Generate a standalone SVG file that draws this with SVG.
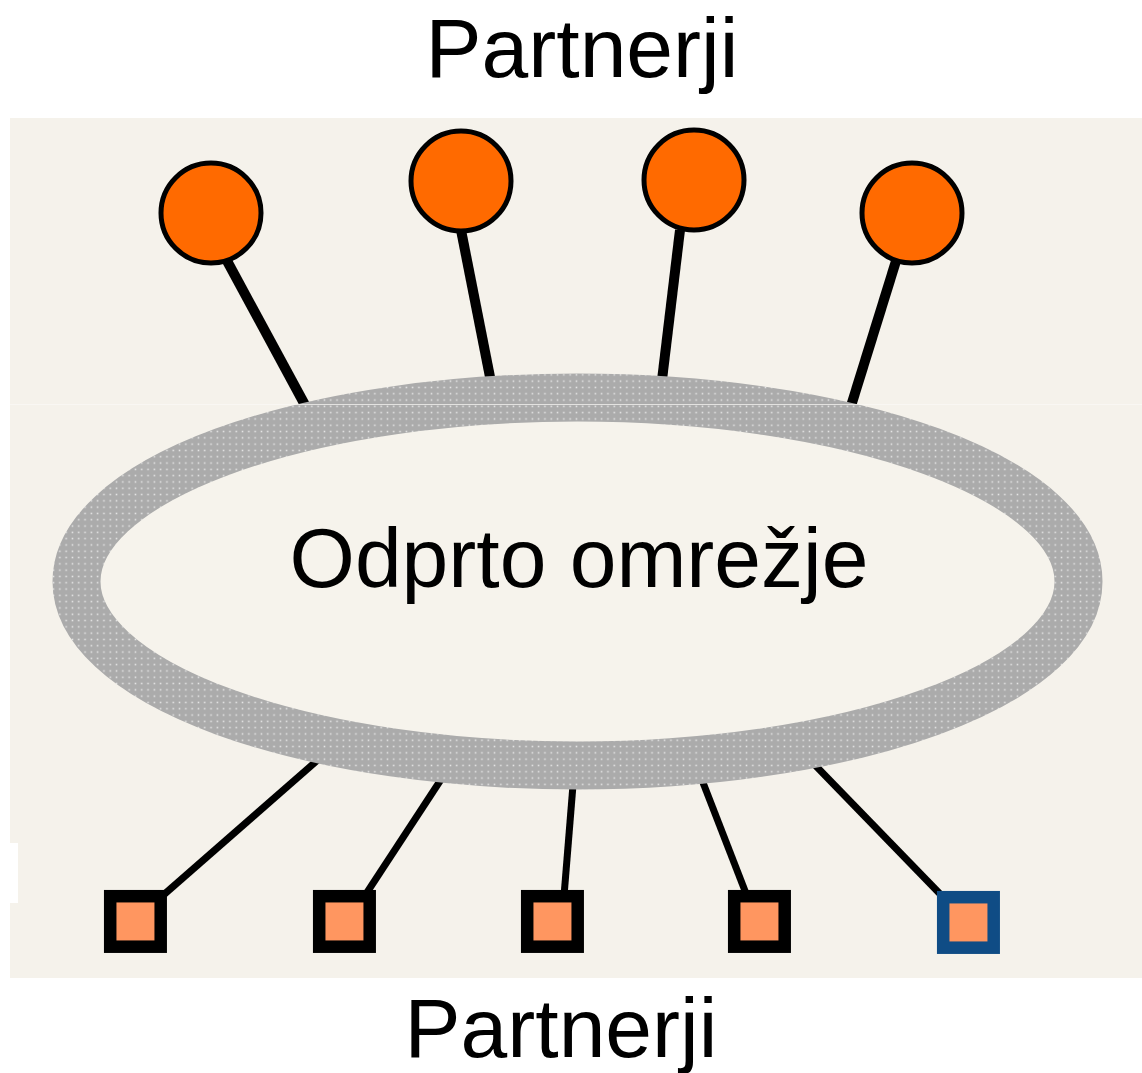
<svg xmlns="http://www.w3.org/2000/svg" width="1142" height="1073" viewBox="0 0 1142 1073">
  <defs>
    <pattern id="dots" x="0" y="0" width="6.3" height="6.3" patternUnits="userSpaceOnUse">
      <rect width="6.3" height="6.3" fill="#ABABAB"/>
      <rect x="2.4" y="2.4" width="1.5" height="1.5" fill="#E8E8E8"/>
    </pattern>
    <style>
      .label { font-family: "Liberation Sans", Arial, sans-serif; font-size: 84px; fill: #000; text-anchor: middle; }
      .top-line { stroke: #000; stroke-width: 10; stroke-linecap: butt; fill: none; }
      .bot-line { stroke: #000; stroke-width: 7; stroke-linecap: butt; fill: none; }
      .partner-top { fill: #FF6A00; stroke: #000; stroke-width: 5; }
      .partner-bot { fill: #FF9660; stroke: #000; stroke-width: 12.5; }
      .partner-bot.blue { stroke: #0F4C85; }
    </style>
  </defs>

  <rect width="1142" height="1073" fill="#FFFFFF"/>
  <!-- panel -->
  <rect x="10" y="118" width="1132" height="860" fill="#F5F2EB"/>
  <rect x="0" y="843" width="18" height="60" fill="#FFFFFF"/>

  <g id="connectors">
    <line class="top-line" x1="226" y1="259" x2="305" y2="405"/>
    <line class="top-line" x1="461" y1="230" x2="491" y2="382"/>
    <line class="top-line" x1="680" y1="230" x2="662" y2="380"/>
    <line class="top-line" x1="896" y1="261" x2="851" y2="406"/>
    <line class="bot-line" x1="160" y1="898" x2="320" y2="758"/>
    <line class="bot-line" x1="364" y1="897" x2="442" y2="778"/>
    <line class="bot-line" x1="564" y1="896" x2="573" y2="785"/>
    <line class="bot-line" x1="747" y1="896" x2="702" y2="780"/>
    <line class="bot-line" x1="943" y1="897" x2="814" y2="764"/>
  </g>

  <g id="network">
    <ellipse cx="577.5" cy="581.5" rx="501" ry="184" fill="#F6F3EC" stroke="url(#dots)" stroke-width="48"/>
    <text class="label" x="579" y="587">Odprto omrežje</text>
  </g>

  <!-- faint seam across the panel -->
  <line x1="10" y1="404.5" x2="1142" y2="404.5" stroke="#FBFAF7" stroke-width="1" opacity="0.7"/>

  <g id="partner-top-1"><circle class="partner-top" cx="211" cy="213" r="50"/></g>
  <g id="partner-top-2"><circle class="partner-top" cx="461" cy="181" r="50"/></g>
  <g id="partner-top-3"><circle class="partner-top" cx="694" cy="180" r="50"/></g>
  <g id="partner-top-4"><circle class="partner-top" cx="912" cy="213" r="50"/></g>

  <g id="partner-bot-1"><rect class="partner-bot" x="110.2" y="896.2" width="50.5" height="50.5"/></g>
  <g id="partner-bot-2"><rect class="partner-bot" x="319.2" y="896.2" width="50.5" height="50.5"/></g>
  <g id="partner-bot-3"><rect class="partner-bot" x="527.2" y="896.2" width="50.5" height="50.5"/></g>
  <g id="partner-bot-4"><rect class="partner-bot" x="734.2" y="896.2" width="50.5" height="50.5"/></g>
  <g id="partner-bot-5"><rect class="partner-bot blue" x="943.2" y="897.2" width="50.5" height="50.5"/></g>

  <g id="label-top"><text class="label" x="582" y="77">Partnerji</text></g>
  <g id="label-bottom"><text class="label" x="561" y="1057">Partnerji</text></g>
</svg>
